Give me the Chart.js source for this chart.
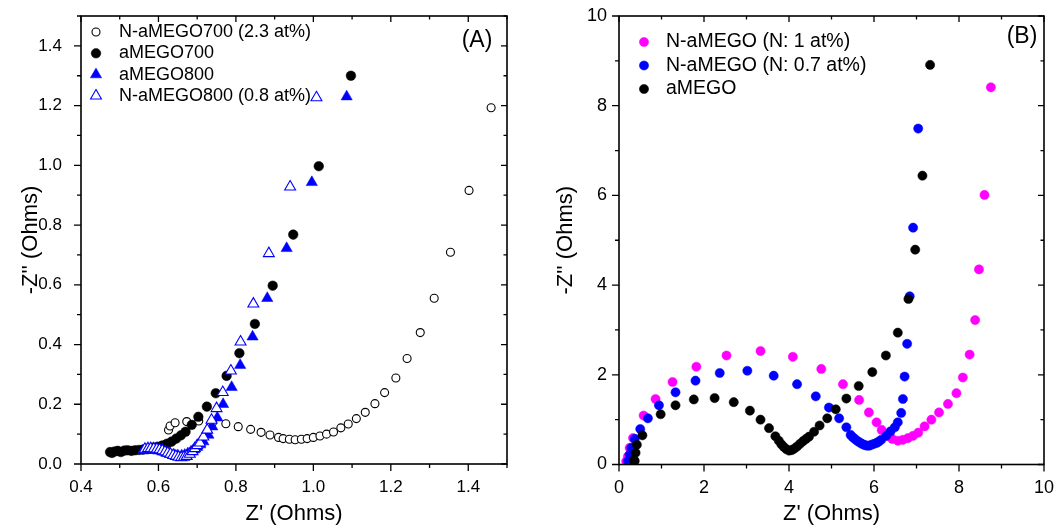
<!DOCTYPE html>
<html>
<head>
<meta charset="utf-8">
<script src="https://cdn.jsdelivr.net/npm/chart.js@4.4.1/dist/chart.umd.min.js"></script>
<style>
  html, body { margin: 0; padding: 0; background: #fff; }
  #wrap { position: relative; width: 1058px; height: 527px; }
  canvas { position: absolute; top: 0; }
  #chartA { left: 0; }
  #chartB { left: 529px; }
</style>
</head>
<body>
<div id="wrap">
  <canvas id="chartA" width="529" height="527"></canvas>
  <canvas id="chartB" width="529" height="527"></canvas>
</div>
<script>
// Pannello A: spettri di impedenza (Nyquist), Z' e -Z'' in Ohm
const labelsA = ['N-aMEGO700 (2.3 at%)', 'aMEGO700', 'aMEGO800', 'N-aMEGO800 (0.8 at%)'];

const n700X = [0.626, 0.630, 0.643, 0.673, 0.704, 0.740, 0.774, 0.806, 0.838, 0.865, 0.888, 0.910, 0.922, 0.938, 0.953, 0.969, 0.984, 1.000, 1.017, 1.034, 1.052, 1.071, 1.090, 1.111, 1.134, 1.159, 1.184, 1.213, 1.242, 1.276, 1.312, 1.354, 1.402, 1.459];
const n700Y = [0.114, 0.127, 0.138, 0.142, 0.144, 0.140, 0.135, 0.125, 0.116, 0.106, 0.097, 0.089, 0.085, 0.083, 0.081, 0.083, 0.085, 0.089, 0.094, 0.100, 0.107, 0.121, 0.134, 0.152, 0.173, 0.202, 0.239, 0.288, 0.353, 0.440, 0.555, 0.709, 0.916, 1.193];

const a700X = [0.475, 0.480, 0.487, 0.495, 0.503, 0.512, 0.520, 0.530, 0.540, 0.550, 0.560, 0.572, 0.585, 0.598, 0.610, 0.622, 0.634, 0.646, 0.658, 0.670, 0.686, 0.703, 0.725, 0.748, 0.776, 0.809, 0.849, 0.895, 0.948, 1.014, 1.097];
const a700Y = [0.040, 0.037, 0.042, 0.044, 0.040, 0.045, 0.046, 0.044, 0.046, 0.047, 0.048, 0.050, 0.055, 0.058, 0.062, 0.068, 0.075, 0.085, 0.096, 0.108, 0.131, 0.158, 0.192, 0.237, 0.295, 0.371, 0.469, 0.597, 0.768, 0.997, 1.300];

const a800X = [0.560, 0.570, 0.580, 0.590, 0.600, 0.610, 0.620, 0.630, 0.640, 0.650, 0.660, 0.668, 0.676, 0.684, 0.692, 0.700, 0.708, 0.716, 0.729, 0.739, 0.752, 0.767, 0.789, 0.811, 0.843, 0.881, 0.931, 0.996, 1.086];
const a800Y = [0.045, 0.047, 0.047, 0.046, 0.044, 0.041, 0.037, 0.033, 0.030, 0.028, 0.028, 0.030, 0.035, 0.041, 0.048, 0.056, 0.065, 0.075, 0.097, 0.125, 0.155, 0.200, 0.257, 0.331, 0.426, 0.555, 0.722, 0.943, 1.230];

const n800X = [0.565, 0.573, 0.580, 0.588, 0.596, 0.603, 0.610, 0.617, 0.624, 0.631, 0.638, 0.645, 0.652, 0.659, 0.666, 0.673, 0.681, 0.688, 0.694, 0.700, 0.707, 0.716, 0.726, 0.737, 0.750, 0.766, 0.787, 0.812, 0.845, 0.885, 0.940, 1.008];
const n800Y = [0.050, 0.052, 0.052, 0.051, 0.050, 0.048, 0.045, 0.041, 0.037, 0.033, 0.029, 0.026, 0.023, 0.022, 0.023, 0.026, 0.033, 0.042, 0.052, 0.062, 0.071, 0.091, 0.114, 0.147, 0.186, 0.240, 0.312, 0.409, 0.536, 0.705, 0.928, 1.227];

// Pannello B
const labelsB = ['N-aMEGO (N: 1 at%)', 'N-aMEGO (N: 0.7 at%)', 'aMEGO'];

const n1X = [0.17, 0.21, 0.25, 0.33, 0.58, 0.86, 1.26, 1.82, 2.53, 3.33, 4.09, 4.76, 5.27, 5.65, 5.88, 6.06, 6.18, 6.31, 6.43, 6.56, 6.68, 6.80, 6.92, 7.04, 7.19, 7.35, 7.53, 7.74, 7.94, 8.09, 8.25, 8.38, 8.47, 8.60, 8.75];
const n1Y = [0.07, 0.18, 0.37, 0.59, 1.09, 1.46, 1.84, 2.18, 2.43, 2.53, 2.40, 2.13, 1.79, 1.44, 1.16, 0.94, 0.77, 0.64, 0.57, 0.53, 0.55, 0.59, 0.64, 0.71, 0.85, 1.00, 1.16, 1.35, 1.59, 1.94, 2.45, 3.22, 4.35, 6.01, 8.41];

const n07X = [0.21, 0.25, 0.29, 0.37, 0.50, 0.68, 0.94, 1.33, 1.80, 2.37, 3.02, 3.64, 4.19, 4.63, 4.94, 5.18, 5.35, 5.45, 5.50, 5.55, 5.60, 5.65, 5.70, 5.74, 5.79, 5.84, 5.89, 5.94, 6.00, 6.06, 6.11, 6.17, 6.29, 6.39, 6.49, 6.56, 6.64, 6.68, 6.72, 6.78, 6.84, 6.92, 7.04];
const n07Y = [0.07, 0.22, 0.37, 0.57, 0.79, 1.03, 1.32, 1.61, 1.87, 2.04, 2.09, 1.98, 1.79, 1.52, 1.27, 1.03, 0.83, 0.66, 0.61, 0.57, 0.53, 0.50, 0.47, 0.45, 0.43, 0.42, 0.42, 0.44, 0.46, 0.48, 0.51, 0.55, 0.64, 0.74, 0.83, 0.94, 1.15, 1.46, 1.96, 2.69, 3.75, 5.28, 7.49];

const amX = [0.35, 0.37, 0.39, 0.42, 0.55, 0.98, 1.33, 1.76, 2.25, 2.70, 3.08, 3.33, 3.53, 3.68, 3.76, 3.82, 3.88, 3.94, 4.00, 4.06, 4.12, 4.19, 4.26, 4.33, 4.40, 4.47, 4.59, 4.72, 4.90, 5.10, 5.35, 5.64, 5.96, 6.28, 6.56, 6.81, 6.97, 7.14, 7.32];
const amY = [0.10, 0.08, 0.26, 0.44, 0.65, 1.12, 1.32, 1.45, 1.48, 1.39, 1.20, 1.00, 0.81, 0.63, 0.53, 0.45, 0.39, 0.34, 0.31, 0.32, 0.35, 0.40, 0.46, 0.52, 0.57, 0.62, 0.73, 0.87, 1.03, 1.23, 1.47, 1.75, 2.06, 2.43, 2.94, 3.69, 4.79, 6.44, 8.91];

const FONT = "'Liberation Sans', Arial, sans-serif";

const toPoints = (xs, ys) => xs.map((x, i) => ({ x: x, y: ys[i] }));
const isMajor = (v, step) => Math.abs(v / step - Math.round(v / step)) < 1e-6;

// disegna un marcatore (cerchio o triangolo) per la legenda
function drawMarker(ctx, ds, x, y) {
  const r = ds.pointRadius;
  ctx.beginPath();
  if (ds.pointStyle === 'triangle') {
    ctx.moveTo(x, y - r);
    ctx.lineTo(x + r * 0.866, y + r * 0.5);
    ctx.lineTo(x - r * 0.866, y + r * 0.5);
    ctx.closePath();
  } else {
    ctx.arc(x, y, r, 0, Math.PI * 2);
  }
  ctx.fillStyle = ds.backgroundColor;
  ctx.fill();
  ctx.lineWidth = ds.borderWidth;
  ctx.strokeStyle = ds.borderColor;
  ctx.stroke();
}

// cornice, tacche maggiori/minori, legenda interna ed etichetta del pannello
const framePlugin = {
  id: 'frame',
  afterDatasetsDraw(chart, args, opts) {
    const { ctx, chartArea: a } = chart;
    const xs = chart.scales.x, ys = chart.scales.y;
    ctx.save();
    ctx.strokeStyle = '#000';
    ctx.lineWidth = 1.6;
    ctx.strokeRect(a.left, a.top, a.right - a.left, a.bottom - a.top);
    ctx.lineWidth = 1.3;
    ctx.beginPath();
    xs.ticks.forEach(t => {
      const px = xs.getPixelForValue(t.value);
      const maj = isMajor(t.value, opts.xMajor);
      ctx.moveTo(px, a.bottom); ctx.lineTo(px, a.bottom + (maj ? 7 : 4));
      ctx.moveTo(px, a.top); ctx.lineTo(px, a.top + (maj ? 6 : 3.5));
    });
    ys.ticks.forEach(t => {
      const py = ys.getPixelForValue(t.value);
      const maj = isMajor(t.value, opts.yMajor);
      ctx.moveTo(a.left, py); ctx.lineTo(a.left - (maj ? 7 : 4), py);
      ctx.moveTo(a.right, py); ctx.lineTo(a.right - (maj ? 6 : 3.5), py);
    });
    ctx.stroke();

    // legenda
    const lg = opts.legend;
    ctx.font = lg.size + 'px ' + FONT;
    ctx.textBaseline = 'middle';
    ctx.textAlign = 'left';
    chart.data.datasets.forEach((ds, i) => {
      const y = lg.y + i * lg.dy;
      drawMarker(ctx, ds, lg.x, y);
      ctx.fillStyle = '#000';
      ctx.fillText(ds.label, lg.textX, y);
    });

    // etichetta del pannello
    ctx.font = opts.tag.size + 'px ' + FONT;
    ctx.textAlign = 'center';
    ctx.fillStyle = '#000';
    ctx.fillText(opts.tag.text, opts.tag.x, opts.tag.y);
    ctx.restore();
  }
};

// niente margini automatici per le etichette: l'area del grafico la decide il layout
function noPad(s) {
  s.paddingTop = 0; s.paddingBottom = 0; s.paddingLeft = 0; s.paddingRight = 0;
}

function makeScales(cfg) {
  return {
    x: {
      type: 'linear',
      min: cfg.xMin, max: cfg.xMax,
      grid: { display: false, drawTicks: false },
      border: { display: false },
      afterFit: s => { s.height = 527 - cfg.bottom; noPad(s); },
      ticks: {
        stepSize: cfg.xStep, autoSkip: false, maxRotation: 0, padding: 13,
        color: '#000', font: { family: FONT, size: cfg.tickSize },
        callback: v => isMajor(v, cfg.xMajor) ? cfg.xFmt(v) : ''
      },
      title: {
        display: true, text: "Z' (Ohms)", color: '#000',
        font: { family: FONT, size: 22 }, padding: { top: 0, bottom: 0 }
      }
    },
    y: {
      type: 'linear',
      min: cfg.yMin, max: cfg.yMax,
      grid: { display: false, drawTicks: false },
      border: { display: false },
      afterFit: s => { s.width = cfg.left; noPad(s); },
      ticks: {
        stepSize: cfg.yStep, autoSkip: false, padding: cfg.yPad,
        color: '#000', font: { family: FONT, size: cfg.tickSize },
        callback: v => isMajor(v, cfg.yMajor) ? cfg.yFmt(v) : ''
      },
      title: {
        display: true, text: "-Z'' (Ohms)", color: '#000',
        font: { family: FONT, size: 22 }, padding: { top: cfg.titlePad, bottom: 0 }
      }
    }
  };
}

const commonOpts = {
  responsive: false,
  animation: false,
  events: [],
  plugins: { legend: { display: false }, tooltip: { enabled: false } }
};

// Grafico A
new Chart(document.getElementById('chartA').getContext('2d'), {
  type: 'scatter',
  data: {
    datasets: [
      { label: labelsA[0], data: toPoints(n700X, n700Y), pointStyle: 'circle', pointRadius: 4,
        backgroundColor: '#fff', borderColor: '#000', borderWidth: 1.1, order: 4 },
      { label: labelsA[1], data: toPoints(a700X, a700Y), pointStyle: 'circle', pointRadius: 4.8,
        backgroundColor: '#000', borderColor: '#000', borderWidth: 0.5, order: 3 },
      { label: labelsA[2], data: toPoints(a800X, a800Y), pointStyle: 'triangle', pointRadius: 6.5,
        backgroundColor: '#0000ff', borderColor: '#0000ff', borderWidth: 0.5, order: 2 },
      { label: labelsA[3], data: toPoints(n800X, n800Y), pointStyle: 'triangle', pointRadius: 6.3,
        backgroundColor: '#fff', borderColor: '#0000ff', borderWidth: 1.1, order: 1 }
    ]
  },
  options: Object.assign({}, commonOpts, {
    layout: { padding: { top: 16, right: 22, left: 0, bottom: 0 } },
    scales: makeScales({
      xMin: 0.4, xMax: 1.5, xStep: 0.1, xMajor: 0.2, xFmt: v => v.toFixed(1),
      yMin: 0, yMax: 1.5, yStep: 0.1, yMajor: 0.2, yFmt: v => v.toFixed(1),
      left: 81, bottom: 464, tickSize: 17, yPad: 19, titlePad: 18
    }),
    plugins: Object.assign({}, commonOpts.plugins, {
      frame: {
        xMajor: 0.2, yMajor: 0.2,
        legend: { x: 96, textX: 119, y: 32, dy: 21.3, size: 18 },
        tag: { text: '(A)', x: 477, y: 41, size: 23 }
      }
    })
  }),
  plugins: [framePlugin]
});

// Grafico B
new Chart(document.getElementById('chartB').getContext('2d'), {
  type: 'scatter',
  data: {
    datasets: [
      { label: labelsB[0], data: toPoints(n1X, n1Y), pointStyle: 'circle', pointRadius: 4.6,
        backgroundColor: '#ff00ff', borderColor: '#ff00ff', borderWidth: 0.5, order: 3 },
      { label: labelsB[1], data: toPoints(n07X, n07Y), pointStyle: 'circle', pointRadius: 4.6,
        backgroundColor: '#0000ff', borderColor: '#0000ff', borderWidth: 0.5, order: 2 },
      { label: labelsB[2], data: toPoints(amX, amY), pointStyle: 'circle', pointRadius: 4.6,
        backgroundColor: '#000', borderColor: '#000', borderWidth: 0.5, order: 1 }
    ]
  },
  options: Object.assign({}, commonOpts, {
    layout: { padding: { top: 16, right: 14, left: 0, bottom: 0 } },
    scales: makeScales({
      xMin: 0, xMax: 10, xStep: 1, xMajor: 2, xFmt: v => String(v),
      yMin: 0, yMax: 10, yStep: 1, yMajor: 2, yFmt: v => String(v),
      left: 90, bottom: 464.5, tickSize: 18, yPad: 12, titlePad: 24
    }),
    plugins: Object.assign({}, commonOpts.plugins, {
      frame: {
        xMajor: 2, yMajor: 2,
        legend: { x: 115, textX: 137, y: 42, dy: 23.5, size: 19.5 },
        tag: { text: '(B)', x: 493, y: 37, size: 23 }
      }
    })
  }),
  plugins: [framePlugin]
});
</script>
</body>
</html>
